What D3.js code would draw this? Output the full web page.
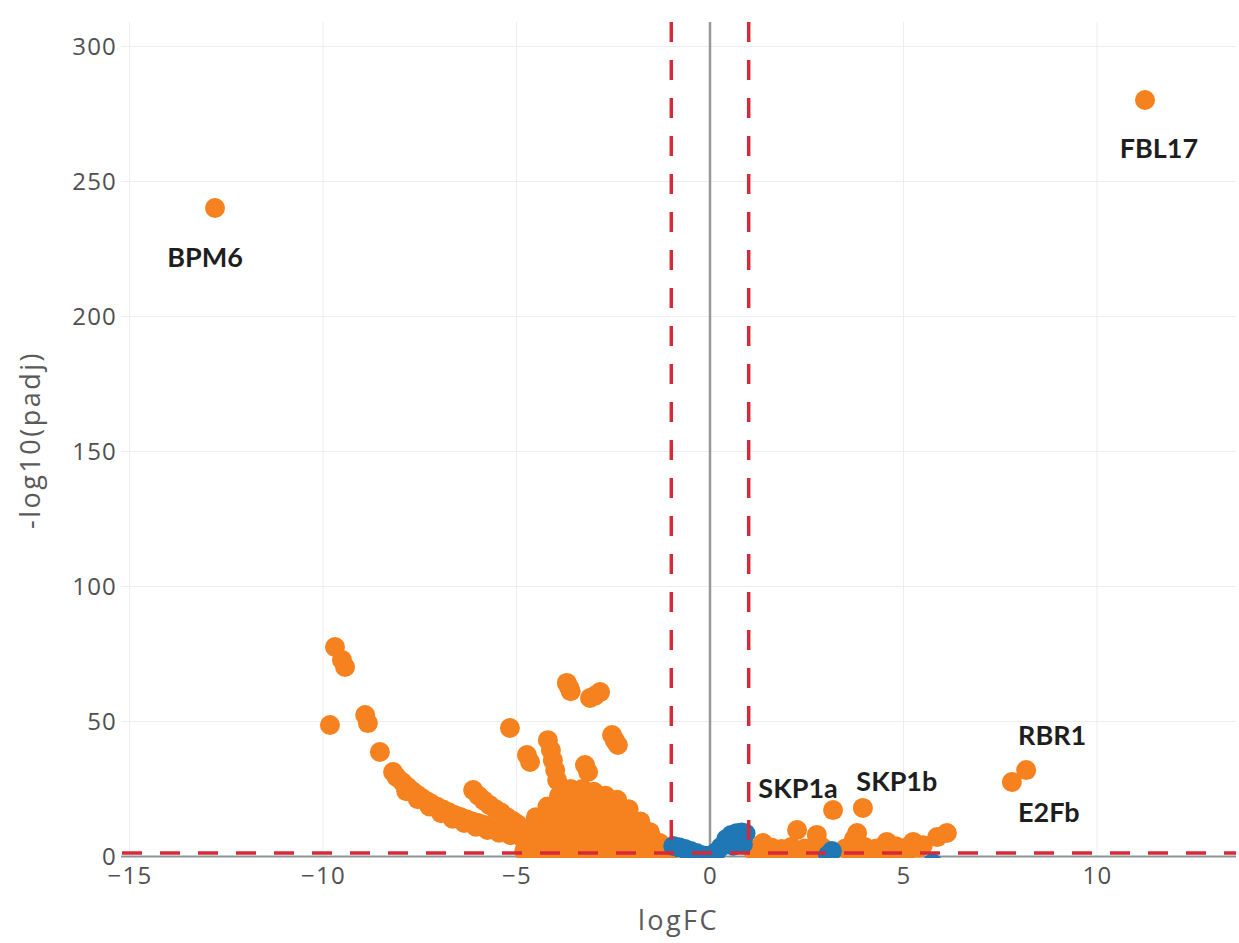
<!DOCTYPE html>
<html lang="en">
<head>
<meta charset="utf-8">
<title>Volcano logFC</title>
<script src="https://cdn.jsdelivr.net/npm/d3@7/dist/d3.min.js"></script>
<style>
  body {
    margin: 0;
    background-color: #ffffff;
  }

  .axis text {
    font-family: "Open Sans", sans-serif;
    font-size: 24px;
    fill: #505050;
    letter-spacing: 1.2px;
  }

  .axis-title {
    font-family: "Open Sans", sans-serif;
    font-size: 27px;
    fill: #5a5a5a;
    letter-spacing: 2.5px;
  }

  .gene-label {
    font-family: Lato, sans-serif;
    font-weight: 700;
    font-size: 27px;
    fill: #1e1e1e;
  }
</style>
</head>
<body>
<script>
// logFC vs -log10(padj), one entry per gene
// down regulated genes (orange, logFC < -1)
let downGenes = [
  [-12.79, 240.2],
  [-9.69, 77.6], [-9.51, 72.8], [-9.43, 70.2], [-9.82, 48.7], [-8.91, 52.4], [-8.84, 49.4],
  [-8.53, 38.7], [-8.19, 31.3],
  // long tail
  [-8.1, 29.5], [-7.95, 27.6], [-7.82, 25.8], [-7.7, 24.3], [-7.58, 23], [-7.45, 21.7],
  [-7.32, 20.5], [-7.2, 19.5], [-7.05, 18.4], [-6.9, 17.4], [-6.75, 16.4], [-6.6, 15.4],
  [-6.45, 14.6], [-6.3, 13.8], [-6.15, 13.1], [-6.0, 12.4], [-5.85, 11.8], [-5.7, 11.1],
  [-5.55, 10.5], [-5.4, 9.9], [-5.25, 9.4], [-5.1, 8.9], [-4.95, 8.4], [-4.8, 7.9], [-4.6, 7.4],
  [-7.85, 24.2], [-7.55, 21.2], [-7.25, 18.5], [-6.95, 16.0], [-6.65, 14.0], [-6.35, 12.4],
  [-6.05, 11.0], [-5.75, 9.8], [-5.45, 8.8], [-5.15, 7.9], [-4.85, 7.0],
  // second tail
  [-6.12, 24.6], [-5.98, 22.5], [-5.85, 20.8], [-5.7, 19.1], [-5.55, 17.6], [-5.4, 16.3],
  [-5.25, 14.6], [-5.1, 13.2], [-4.98, 12],
  // scattered
  [-5.17, 47.6], [-4.73, 37.6], [-4.65, 35.0], [-4.19, 43.1], [-4.11, 39.4], [-4.06, 35.7],
  [-4.0, 32.0], [-3.95, 28.3], [-3.23, 33.9], [-3.15, 31.3], [-3.70, 64.3], [-3.64, 62.6],
  [-3.60, 61.2], [-3.10, 58.7], [-2.97, 59.6], [-2.84, 60.9], [-2.53, 45.0], [-2.46, 43.0],
  [-2.38, 41.3],
  // dense cloud
  [-4.8, 2], [-4.8, 6], [-4.8, 10.5],
  [-4.5, 2], [-4.5, 6], [-4.5, 10], [-4.5, 14.5],
  [-4.2, 2], [-4.2, 6], [-4.2, 10], [-4.2, 14], [-4.2, 18.5],
  [-3.9, 2], [-3.9, 6], [-3.9, 10], [-3.9, 14], [-3.9, 18], [-3.9, 22.5],
  [-3.6, 2], [-3.6, 6], [-3.6, 10], [-3.6, 14], [-3.6, 18], [-3.6, 22], [-3.6, 25],
  [-3.3, 2], [-3.3, 6], [-3.3, 10], [-3.3, 14], [-3.3, 18], [-3.3, 22], [-3.3, 25],
  [-3.0, 2], [-3.0, 6], [-3.0, 10], [-3.0, 14], [-3.0, 18], [-3.0, 22], [-3.0, 24],
  [-2.7, 2], [-2.7, 6], [-2.7, 10], [-2.7, 14], [-2.7, 18], [-2.7, 22.5],
  [-2.4, 2], [-2.4, 6], [-2.4, 10], [-2.4, 14], [-2.4, 18], [-2.4, 21],
  [-2.1, 2], [-2.1, 6], [-2.1, 10], [-2.1, 14], [-2.1, 17.5],
  [-1.8, 2], [-1.8, 6], [-1.8, 10], [-1.8, 13],
  [-1.55, 2], [-1.55, 5.5], [-1.55, 9],
  [-1.3, 2], [-1.3, 5], [-1.15, 2.5], [-1.05, 1.8]
]

// up regulated genes (orange, logFC > 1)
let upGenes = [
  [11.24, 280.2], [8.17, 32.0], [7.80, 27.6], [3.18, 17.2], [3.95, 18.0],
  [2.25, 9.8], [2.76, 8.0], [3.80, 8.7], [3.72, 6.5], [4.57, 5.4], [5.25, 5.4], [5.87, 7.2],
  [6.12, 8.7], [1.37, 5.0],
  [1.1, 2.5], [1.6, 3.2], [1.85, 2.8], [2.1, 3.5], [2.45, 3.0], [2.9, 3.4], [3.5, 3.0],
  [4.0, 3.5], [4.3, 3.0], [4.8, 3.8], [5.05, 3.2], [5.5, 4.2],
  [1.25, 2.0], [1.5, 2.2], [1.75, 2.0], [2.0, 2.2], [2.3, 2.0], [2.6, 2.3], [3.65, 2.5],
  [3.9, 2.0], [4.15, 2.2], [4.45, 2.4], [4.65, 2.8], [4.95, 2.5], [5.2, 3.0], [5.4, 3.2]
]

// not significant (blue)
let nsGenes = [
  [-0.95, 3.9], [-0.8, 3.4], [-0.65, 2.8], [-0.5, 2.0], [-0.35, 1.3], [-0.2, 0.5], [-0.05, 0.2],
  [0.0, 0.3], [0.1, 0.8], [0.15, 1.5], [0.28, 3.5], [0.42, 6.5], [0.55, 8.0], [0.68, 8.6],
  [0.82, 8.9], [0.92, 8.5], [0.6, 4], [0.85, 4.5],
  [3.05, 0.5], [3.15, 2.0], [5.75, -2.5]
]

// named genes
let labelGenes = ["BPM6", "FBL17", "RBR1", "E2Fb", "SKP1a", "SKP1b"]
let labelFC = [-12.79, 11.24, 8.17, 7.80, 3.18, 3.95]
let labelP = [240.2, 280.2, 32.0, 27.6, 17.2, 18.0]

let xTicks = [-15, -10, -5, 0, 5, 10]
let yTicks = [0, 50, 100, 150, 200, 250, 300]
let fcCut = 1
let padjCut = 1.3

let w = 1239
let h = 943
let plotLeft = 121
let plotRight = 1236
let plotTop = 22
let plotBottom = 858
let dotR = 10

let xScale = d3.scaleLinear()
  .domain([-15, 10])
  .range([129.5, 1097]);

let yScale = d3.scaleLinear()
  .domain([0, 300])
  .range([856.5, 46.5]);

let svg = d3.select("body")
  .append("svg")
  .attr("width", w)
  .attr("height", h)
  .style("background-color", "#ffffff")

svg.append("clipPath")
  .attr("id", "plot-clip")
  .append("rect")
  .attr("x", plotLeft)
  .attr("y", plotTop)
  .attr("width", plotRight - plotLeft)
  .attr("height", plotBottom - plotTop)

// grid
svg.append("g")
  .selectAll("line")
  .data(xTicks.filter((d) => d !== 0))
  .enter()
  .append("line")
  .attr("x1", (d) => xScale(d))
  .attr("x2", (d) => xScale(d))
  .attr("y1", plotTop)
  .attr("y2", plotBottom)
  .attr("stroke", "#ededed")
  .attr("stroke-width", 1)

svg.append("g")
  .selectAll("line")
  .data(yTicks.filter((d) => d !== 0))
  .enter()
  .append("line")
  .attr("x1", plotLeft)
  .attr("x2", plotRight)
  .attr("y1", (d) => yScale(d))
  .attr("y2", (d) => yScale(d))
  .attr("stroke", "#ededed")
  .attr("stroke-width", 1)

// zero lines
svg.append("line")
  .attr("x1", xScale(0))
  .attr("x2", xScale(0))
  .attr("y1", plotTop)
  .attr("y2", plotBottom)
  .attr("stroke", "#999999")
  .attr("stroke-width", 2.5)

svg.append("line")
  .attr("x1", plotLeft)
  .attr("x2", plotRight)
  .attr("y1", yScale(0))
  .attr("y2", yScale(0))
  .attr("stroke", "#8a9494")
  .attr("stroke-width", 2)

// points
let pts = svg.append("g").attr("clip-path", "url(#plot-clip)")

pts.selectAll("circle.sig")
  .data(downGenes.concat(upGenes))
  .enter()
  .append("circle")
  .attr("class", "sig")
  .attr("cx", (d) => xScale(d[0]))
  .attr("cy", (d) => yScale(d[1]))
  .attr("r", dotR)
  .attr("fill", "#f5821f")

pts.selectAll("circle.ns")
  .data(nsGenes)
  .enter()
  .append("circle")
  .attr("class", "ns")
  .attr("cx", (d) => xScale(d[0]))
  .attr("cy", (d) => yScale(d[1]))
  .attr("r", dotR)
  .attr("fill", "#1f77b4")

// cutoff lines
let cut = svg.append("g").attr("clip-path", "url(#plot-clip)")

cut.selectAll("line.fc")
  .data([-fcCut, fcCut])
  .enter()
  .append("line")
  .attr("x1", (d) => xScale(d))
  .attr("x2", (d) => xScale(d))
  .attr("y1", plotTop)
  .attr("y2", plotBottom)
  .attr("stroke", "#d62a3a")
  .attr("stroke-width", 3.5)
  .attr("stroke-dasharray", "20,18")

cut.append("line")
  .attr("x1", plotLeft)
  .attr("x2", plotRight)
  .attr("y1", yScale(padjCut))
  .attr("y2", yScale(padjCut))
  .attr("stroke", "#d62a3a")
  .attr("stroke-width", 3.5)
  .attr("stroke-dasharray", "20,18")
  .attr("stroke-dashoffset", -1)

// axes
let xAxis = d3.axisBottom(xScale)
  .tickValues(xTicks)
  .tickSize(0)
  .tickPadding(10)

let yAxis = d3.axisLeft(yScale)
  .tickValues(yTicks)
  .tickSize(0)
  .tickPadding(4)

svg.append("g")
  .attr("class", "axis")
  .attr("transform", "translate(0," + yScale(0) + ")")
  .call(xAxis)
  .call((g) => g.select(".domain").remove())

svg.append("g")
  .attr("class", "axis")
  .attr("transform", "translate(" + plotLeft + ",0)")
  .call(yAxis)
  .call((g) => g.select(".domain").remove())

svg.append("text")
  .attr("class", "axis-title")
  .attr("x", (plotLeft + plotRight) / 2)
  .attr("y", 930)
  .attr("text-anchor", "middle")
  .text("logFC")

svg.append("text")
  .attr("class", "axis-title")
  .attr("transform", "translate(40," + ((plotTop + plotBottom) / 2) + ") rotate(-90)")
  .attr("text-anchor", "middle")
  .text("-log10(padj)")

// gene labels, offset in px from their point
let labelShift = {
  BPM6: [-10, 49],
  FBL17: [14, 48],
  RBR1: [26, -36],
  E2Fb: [37, 30],
  SKP1a: [-35, -23],
  SKP1b: [34, -27]
}

svg.append("g")
  .selectAll("text")
  .data(labelGenes)
  .enter()
  .append("text")
  .attr("class", "gene-label")
  .attr("x", (d, i) => xScale(labelFC[i]) + labelShift[d][0])
  .attr("y", (d, i) => yScale(labelP[i]) + labelShift[d][1])
  .attr("text-anchor", "middle")
  .attr("dominant-baseline", "central")
  .text((d) => d)
</script>
</body>
</html>
